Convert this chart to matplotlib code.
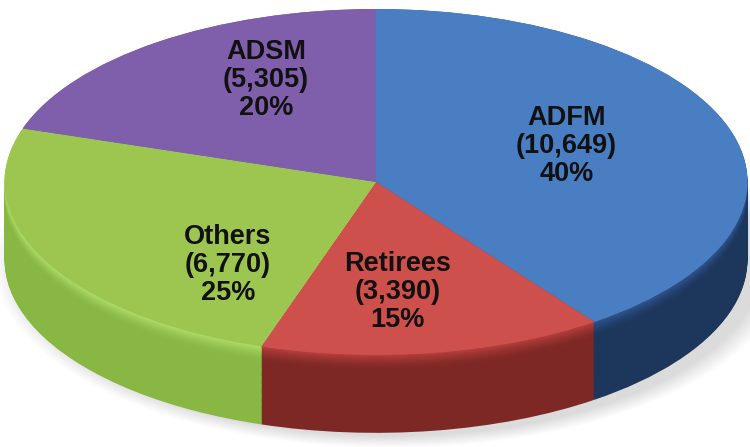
import numpy as np
import matplotlib.pyplot as plt
from matplotlib.colors import to_rgb
from matplotlib.patches import Ellipse

# Beneficiary groups, clockwise from 12 o'clock
categories = ["ADFM", "Retirees", "Others", "ADSM"]
counts = [10649, 3390, 6770, 5305]
percents = [40, 15, 25, 20]

top_colors = ["#4a7ec3", "#cd504c", "#9dc651", "#7f5fab"]
side_colors = ["#1d365c", "#7e2825", "#88b843", "#5e4480"]
side_light = ["#2e5590", "#b8403c", "#aede68", "#7f5fab"]

plt.rcParams["font.family"] = ["Liberation Sans", "DejaVu Sans"]

fig = plt.figure(figsize=(7.5, 4.47), dpi=100)
ax = fig.add_axes([0, 0, 1, 1])

depth = 0.45          # thickness of the disc, in radius units
n_layers = 70

# soft shadow under the disc
for i in range(12):
    ax.add_patch(Ellipse((0.04, -depth - 0.02), 2.0 + 0.012 * i, 2.0 + 0.012 * i,
                         facecolor="#000000", alpha=0.012, linewidth=0, zorder=0))


def blend(c1, c2, t):
    a, b = np.array(to_rgb(c1)), np.array(to_rgb(c2))
    return tuple(a + (b - a) * t)


# side of the disc: stacked copies of the pie from the bottom up
for k in range(n_layers):
    t = k / (n_layers - 1)
    glow = max(0.0, (t - 0.8) / 0.2) ** 1.5
    cols = [blend(s, l, glow) for s, l in zip(side_colors, side_light)]
    ax.pie(percents, colors=cols, startangle=90, counterclock=False,
           center=(0, -depth * (1 - t)), radius=1.0,
           wedgeprops=dict(linewidth=0, antialiased=True))

# top face
ax.pie(percents, colors=top_colors, startangle=90, counterclock=False,
       center=(0, 0), radius=1.0,
       wedgeprops=dict(linewidth=0, antialiased=True))

labels = [f"{c}\n({n:,})\n{p}%" for c, n, p in zip(categories, counts, percents)]
label_pos = [(0.513, 0.208), (0.059, -0.636), (-0.399, -0.480), (-0.296, 0.590)]
for text, (lx, ly) in zip(labels, label_pos):
    ax.text(lx, ly, text, ha="center", va="center", fontsize=19.5,
            fontweight="bold", color="#111111", linespacing=1.08, zorder=10)

ax.set_aspect("auto")
ax.set_xlim(-376 / 371.5, 374 / 371.5)
ax.set_ylim(-265 / 173, 182 / 173)
ax.axis("off")

fig.savefig("out.png", dpi=100)
